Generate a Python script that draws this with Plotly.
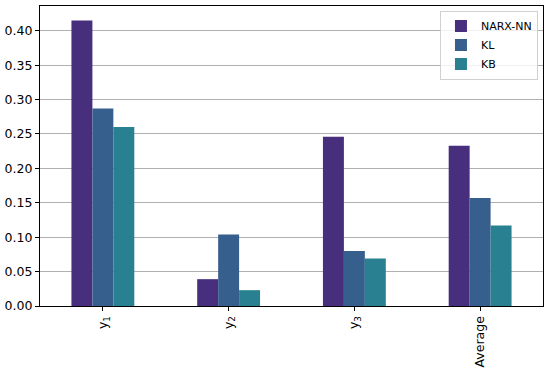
import plotly.graph_objects as go

# categorias e valores
categorias = ["y<sub>1</sub>", "y<sub>2</sub>", "y<sub>3</sub>", "Average"]
narx_nn = [0.415, 0.039, 0.246, 0.233]
kl = [0.287, 0.104, 0.080, 0.157]
kb = [0.260, 0.023, 0.069, 0.117]

series = [("NARX-NN", narx_nn, "#472f7d"), ("KL", kl, "#375f8d"), ("KB", kb, "#288090")]

fig = go.Figure()
for nome, valores, cor in series:
    fig.add_trace(go.Bar(x=categorias, y=valores, name=nome, marker_color=cor, marker_line_width=0))

fig.update_layout(
    width=550, height=371,
    margin=dict(l=40, r=7, t=6, b=65, pad=0),
    paper_bgcolor="white", plot_bgcolor="white",
    barmode="group", bargap=0.5, bargroupgap=0,
    font=dict(family="DejaVu Sans", size=12.5, color="black"),
    legend=dict(x=0.99, y=0.985, xanchor="right", yanchor="top",
                bordercolor="#d0d0d0", borderwidth=1, bgcolor="rgba(255,255,255,0.8)",
                font=dict(size=11), tracegroupgap=0, itemwidth=30),
)
fig.update_xaxes(
    tickangle=-90, showline=True, linecolor="black", linewidth=1.2, mirror=True,
    ticks="outside", ticklen=4, tickcolor="black", showgrid=False,
    range=[-0.5, 3.5], automargin=False,
)
fig.update_yaxes(
    range=[0, 0.436], dtick=0.05, tickformat=".2f",
    showline=True, linecolor="black", linewidth=1.2, mirror=True,
    ticks="outside", ticklen=4, tickcolor="black",
    showgrid=True, gridcolor="#b0b0b0", gridwidth=1.2, zeroline=False, automargin=False,
)

# tira a margem padrao do body para a figura ficar em (0,0)
fig.write_html("out.html", config={"displayModeBar": False},
               post_script="document.body.style.margin='0';")
